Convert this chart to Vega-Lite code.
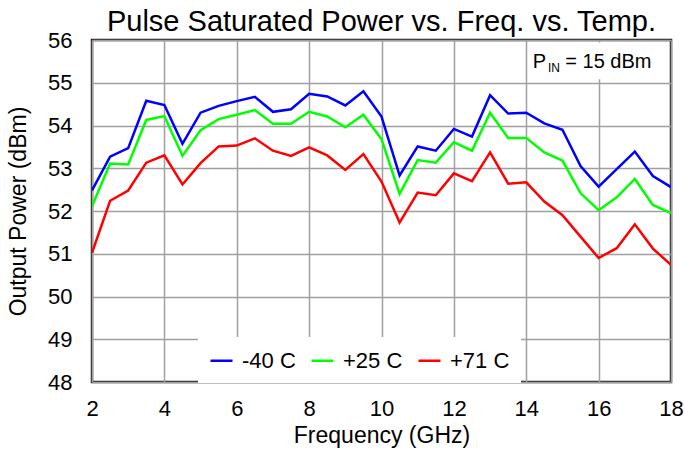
{
  "$schema": "https://vega.github.io/schema/vega-lite/v6.json",
  "width": 579,
  "height": 342,
  "autosize": {"type": "none"},
  "padding": {"left": 92, "top": 40, "right": 13, "bottom": 69},
  "background": "white",
  "title": {"text": "Pulse Saturated Power vs. Freq. vs. Temp.", "font": "Liberation Sans", "fontSize": 29, "fontWeight": "normal", "color": "black", "anchor": "middle", "offset": -8},
  "config": {
    "font": "Liberation Sans",
    "view": {"stroke": "#222222", "strokeWidth": 2.5},
    "axis": {
      "labelFont": "Liberation Sans", "labelFontSize": 22, "labelColor": "black",
      "titleFont": "Liberation Sans", "titleFontSize": 23, "titleFontWeight": "normal", "titleColor": "black",
      "domain": false, "ticks": false, "tickSize": 0, "labelFlush": false,
      "gridColor": "#a0a0a0", "gridWidth": 1.5, "gridOpacity": 1
    },
    "legend": {"labelFont": "Liberation Sans"}
  },
  "datasets": {
    "series": [
      {"freq": 2, "temp": "-40 C", "power": 52.48},
      {"freq": 2.5, "temp": "-40 C", "power": 53.27},
      {"freq": 3, "temp": "-40 C", "power": 53.47},
      {"freq": 3.5, "temp": "-40 C", "power": 54.58},
      {"freq": 4, "temp": "-40 C", "power": 54.48},
      {"freq": 4.5, "temp": "-40 C", "power": 53.57},
      {"freq": 5, "temp": "-40 C", "power": 54.30},
      {"freq": 5.5, "temp": "-40 C", "power": 54.46},
      {"freq": 6, "temp": "-40 C", "power": 54.57},
      {"freq": 6.5, "temp": "-40 C", "power": 54.67},
      {"freq": 7, "temp": "-40 C", "power": 54.32},
      {"freq": 7.5, "temp": "-40 C", "power": 54.38},
      {"freq": 8, "temp": "-40 C", "power": 54.74},
      {"freq": 8.5, "temp": "-40 C", "power": 54.68},
      {"freq": 9, "temp": "-40 C", "power": 54.47},
      {"freq": 9.5, "temp": "-40 C", "power": 54.80},
      {"freq": 10, "temp": "-40 C", "power": 54.21},
      {"freq": 10.5, "temp": "-40 C", "power": 52.83},
      {"freq": 11, "temp": "-40 C", "power": 53.51},
      {"freq": 11.5, "temp": "-40 C", "power": 53.41},
      {"freq": 12, "temp": "-40 C", "power": 53.92},
      {"freq": 12.5, "temp": "-40 C", "power": 53.74},
      {"freq": 13, "temp": "-40 C", "power": 54.71},
      {"freq": 13.5, "temp": "-40 C", "power": 54.28},
      {"freq": 14, "temp": "-40 C", "power": 54.30},
      {"freq": 14.5, "temp": "-40 C", "power": 54.05},
      {"freq": 15, "temp": "-40 C", "power": 53.90},
      {"freq": 15.5, "temp": "-40 C", "power": 53.05},
      {"freq": 16, "temp": "-40 C", "power": 52.57},
      {"freq": 16.5, "temp": "-40 C", "power": 52.98},
      {"freq": 17, "temp": "-40 C", "power": 53.39},
      {"freq": 17.5, "temp": "-40 C", "power": 52.82},
      {"freq": 18, "temp": "-40 C", "power": 52.56},
      {"freq": 2, "temp": "+25 C", "power": 52.11},
      {"freq": 2.5, "temp": "+25 C", "power": 53.11},
      {"freq": 3, "temp": "+25 C", "power": 53.09},
      {"freq": 3.5, "temp": "+25 C", "power": 54.13},
      {"freq": 4, "temp": "+25 C", "power": 54.22},
      {"freq": 4.5, "temp": "+25 C", "power": 53.29},
      {"freq": 5, "temp": "+25 C", "power": 53.89},
      {"freq": 5.5, "temp": "+25 C", "power": 54.15},
      {"freq": 6, "temp": "+25 C", "power": 54.25},
      {"freq": 6.5, "temp": "+25 C", "power": 54.36},
      {"freq": 7, "temp": "+25 C", "power": 54.04},
      {"freq": 7.5, "temp": "+25 C", "power": 54.04},
      {"freq": 8, "temp": "+25 C", "power": 54.32},
      {"freq": 8.5, "temp": "+25 C", "power": 54.21},
      {"freq": 9, "temp": "+25 C", "power": 53.96},
      {"freq": 9.5, "temp": "+25 C", "power": 54.25},
      {"freq": 10, "temp": "+25 C", "power": 53.68},
      {"freq": 10.5, "temp": "+25 C", "power": 52.40},
      {"freq": 11, "temp": "+25 C", "power": 53.19},
      {"freq": 11.5, "temp": "+25 C", "power": 53.13},
      {"freq": 12, "temp": "+25 C", "power": 53.61},
      {"freq": 12.5, "temp": "+25 C", "power": 53.41},
      {"freq": 13, "temp": "+25 C", "power": 54.30},
      {"freq": 13.5, "temp": "+25 C", "power": 53.71},
      {"freq": 14, "temp": "+25 C", "power": 53.71},
      {"freq": 14.5, "temp": "+25 C", "power": 53.37},
      {"freq": 15, "temp": "+25 C", "power": 53.18},
      {"freq": 15.5, "temp": "+25 C", "power": 52.42},
      {"freq": 16, "temp": "+25 C", "power": 52.02},
      {"freq": 16.5, "temp": "+25 C", "power": 52.32},
      {"freq": 17, "temp": "+25 C", "power": 52.75},
      {"freq": 17.5, "temp": "+25 C", "power": 52.14},
      {"freq": 18, "temp": "+25 C", "power": 51.95},
      {"freq": 2, "temp": "+71 C", "power": 51.02},
      {"freq": 2.5, "temp": "+71 C", "power": 52.24},
      {"freq": 3, "temp": "+71 C", "power": 52.48},
      {"freq": 3.5, "temp": "+71 C", "power": 53.13},
      {"freq": 4, "temp": "+71 C", "power": 53.30},
      {"freq": 4.5, "temp": "+71 C", "power": 52.62},
      {"freq": 5, "temp": "+71 C", "power": 53.12},
      {"freq": 5.5, "temp": "+71 C", "power": 53.51},
      {"freq": 6, "temp": "+71 C", "power": 53.53},
      {"freq": 6.5, "temp": "+71 C", "power": 53.70},
      {"freq": 7, "temp": "+71 C", "power": 53.41},
      {"freq": 7.5, "temp": "+71 C", "power": 53.29},
      {"freq": 8, "temp": "+71 C", "power": 53.49},
      {"freq": 8.5, "temp": "+71 C", "power": 53.30},
      {"freq": 9, "temp": "+71 C", "power": 52.96},
      {"freq": 9.5, "temp": "+71 C", "power": 53.33},
      {"freq": 10, "temp": "+71 C", "power": 52.69},
      {"freq": 10.5, "temp": "+71 C", "power": 51.73},
      {"freq": 11, "temp": "+71 C", "power": 52.43},
      {"freq": 11.5, "temp": "+71 C", "power": 52.37},
      {"freq": 12, "temp": "+71 C", "power": 52.88},
      {"freq": 12.5, "temp": "+71 C", "power": 52.70},
      {"freq": 13, "temp": "+71 C", "power": 53.37},
      {"freq": 13.5, "temp": "+71 C", "power": 52.64},
      {"freq": 14, "temp": "+71 C", "power": 52.67},
      {"freq": 14.5, "temp": "+71 C", "power": 52.22},
      {"freq": 15, "temp": "+71 C", "power": 51.90},
      {"freq": 15.5, "temp": "+71 C", "power": 51.40},
      {"freq": 16, "temp": "+71 C", "power": 50.90},
      {"freq": 16.5, "temp": "+71 C", "power": 51.13},
      {"freq": 17, "temp": "+71 C", "power": 51.69},
      {"freq": 17.5, "temp": "+71 C", "power": 51.12},
      {"freq": 18, "temp": "+71 C", "power": 50.74}
    ],
    "box": [{"f1": 14.15, "f2": 17.93, "p1": 55.08, "p2": 55.94}],
    "pmain": [{"f": 14.18, "p": 55.35, "label": "P"}],
    "psub": [{"f": 14.6, "p": 55.26, "label": "IN"}],
    "prest": [{"f": 15.08, "p": 55.35, "label": "= 15 dBm"}]
  },
  "layer": [
    {
      "data": {"name": "box"},
      "mark": {"type": "rect", "fill": "white", "stroke": null},
      "encoding": {
        "x": {"field": "f1", "type": "quantitative", "scale": {"domain": [2, 18], "nice": false, "zero": false}, "axis": {"values": [2, 4, 6, 8, 10, 12, 14, 16, 18], "title": "Frequency (GHz)", "labelPadding": 16, "titlePadding": 5}},
        "x2": {"field": "f2"},
        "y": {"field": "p1", "type": "quantitative", "scale": {"domain": [48, 56], "nice": false, "zero": false}, "axis": {"values": [48, 49, 50, 51, 52, 53, 54, 55, 56], "title": "Output Power (dBm)", "labelPadding": 20, "titlePadding": 17}},
        "y2": {"field": "p2"}
      }
    },
    {
      "data": {"name": "series"},
      "mark": {"type": "line", "strokeWidth": 2.5, "clip": true},
      "encoding": {
        "x": {"field": "freq", "type": "quantitative"},
        "y": {"field": "power", "type": "quantitative"},
        "color": {
          "field": "temp", "type": "nominal",
          "scale": {"domain": ["-40 C", "+25 C", "+71 C"], "range": ["#0000ff", "#00ff00", "#ff0000"]},
          "legend": {
            "title": null, "orient": "none", "direction": "horizontal",
            "legendX": 106, "legendY": 297,
            "fillColor": "white", "padding": 11,
            "symbolType": "stroke", "symbolSize": 484, "symbolStrokeWidth": 2.5,
            "labelFontSize": 22, "labelColor": "black", "labelOffset": 8,
            "columnPadding": 10, "labelLimit": 200
          }
        }
      }
    },
    {
      "data": {"name": "pmain"},
      "mark": {"type": "text", "font": "Liberation Sans", "fontSize": 20, "align": "left", "baseline": "alphabetic", "color": "black"},
      "encoding": {"x": {"field": "f", "type": "quantitative"}, "y": {"field": "p", "type": "quantitative"}, "text": {"field": "label"}}
    },
    {
      "data": {"name": "psub"},
      "mark": {"type": "text", "font": "Liberation Sans", "fontSize": 12, "align": "left", "baseline": "alphabetic", "color": "black"},
      "encoding": {"x": {"field": "f", "type": "quantitative"}, "y": {"field": "p", "type": "quantitative"}, "text": {"field": "label"}}
    },
    {
      "data": {"name": "prest"},
      "mark": {"type": "text", "font": "Liberation Sans", "fontSize": 20, "align": "left", "baseline": "alphabetic", "color": "black"},
      "encoding": {"x": {"field": "f", "type": "quantitative"}, "y": {"field": "p", "type": "quantitative"}, "text": {"field": "label"}}
    }
  ]
}
